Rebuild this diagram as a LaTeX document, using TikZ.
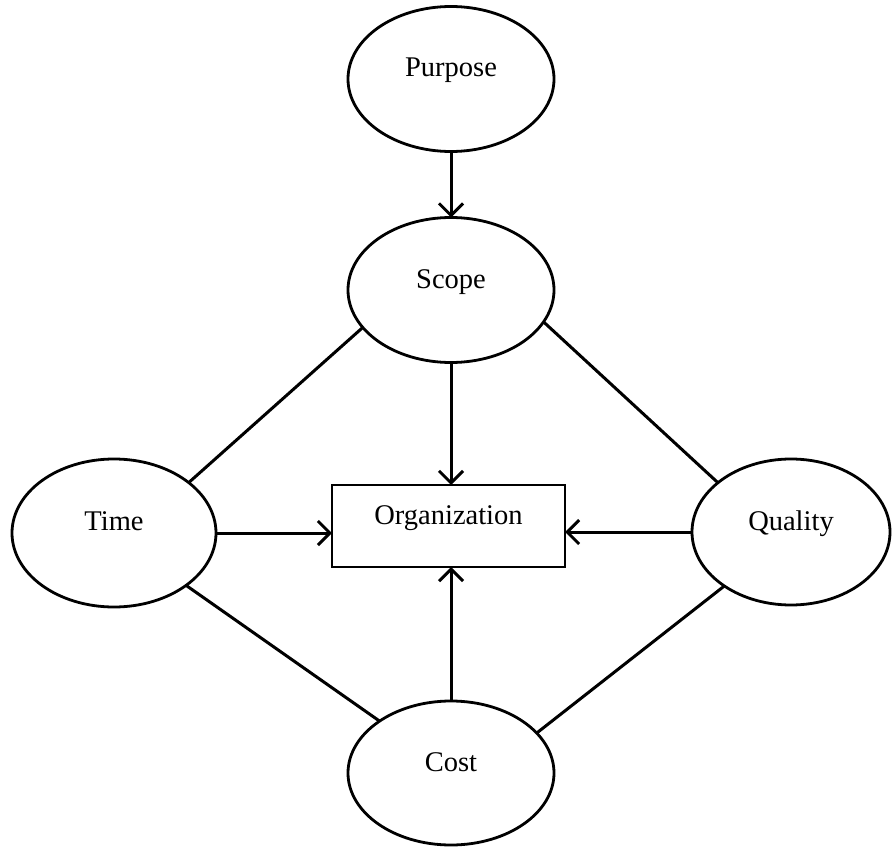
\documentclass[tikz,border=0pt]{standalone}
\usepackage{fontspec}
\setmainfont{Liberation Serif}
\usetikzlibrary{shapes.geometric,arrows.meta}
\begin{document}
\begin{tikzpicture}[x=1pt,y=-1pt,
  every node/.style={line width=2.8pt},
  oval/.style={draw,ellipse,inner sep=0pt,outer sep=0pt},
  box/.style={draw,rectangle,inner sep=0pt,outer sep=0pt,minimum width=233pt,minimum height=82pt},
  lbl/.style={anchor=base,inner sep=0pt,font=\fontsize{28.5}{34}\selectfont},
  conn/.style={line width=3pt},
  arr/.style={conn,-{Straight Barb[length=12pt,width=24pt,line width=3pt]}}]
\useasboundingbox (0,0) rectangle (892,848);
\node[oval,minimum width=206pt,minimum height=145pt] (purpose) at (451,79) {};
\node[oval,minimum width=206pt,minimum height=145pt] (scope) at (451,290) {};
\node[oval,minimum width=204pt,minimum height=148pt] (time) at (114,533) {};
\node[oval,minimum width=198pt,minimum height=146pt] (quality) at (791,532) {};
\node[oval,minimum width=206pt,minimum height=144pt] (cost) at (451,773) {};
\node[box] (org) at (448.5,526) {};
\node[lbl] (purposet) at (451,77) {Purpose};
\node[lbl] (scopet) at (451,288) {Scope};
\node[lbl] (timet) at (114,530) {Time};
\node[lbl] (qualityt) at (791,530) {Quality};
\node[lbl] (costt) at (451,771) {Cost};
\node[lbl] (orgt) at (448.5,524) {Organization};
\draw[arr] (purpose.south) -- (scope.north);
\draw[arr] (scope.south) -- (scope.south |- org.north);
\draw[arr] (time.east) -- (time.east -| org.west);
\draw[arr] (quality.west) -- (quality.west -| org.east);
\draw[arr] (cost.north) -- (cost.north |- org.south);
\draw[conn] (scope.203) -- (time.34);
\draw[conn] (scope.341) -- (quality.146);
\draw[conn] (time.324) -- (cost.144);
\draw[conn] (quality.219) -- (cost.25);
\end{tikzpicture}
\end{document}
